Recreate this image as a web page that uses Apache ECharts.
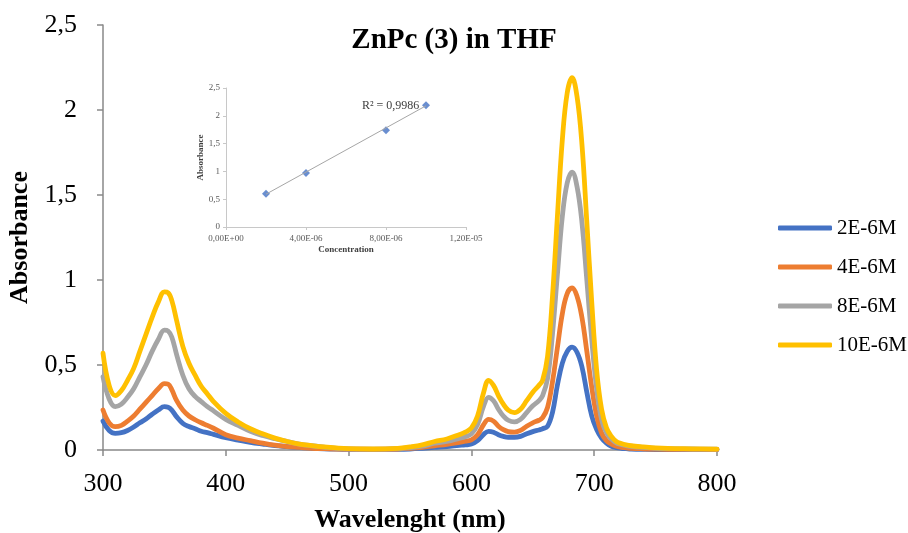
<!DOCTYPE html>
<html>
<head>
<meta charset="utf-8">
<script src="https://cdn.jsdelivr.net/npm/echarts@6/dist/echarts.min.js"></script>
<style>
html,body{margin:0;padding:0;background:#fff;}
#chart{width:908px;height:533px;}
</style>
</head>
<body>
<div id="chart"></div>
<script>
// ---- Data ----
const wavelengths = [300,305,310,315,320,325,330,335,340,345,350,353,356,360,365,370,375,380,385,390,400,410,420,430,440,450,460,470,480,490,500,520,540,550,560,570,580,590,595,600,605,610,614,618,622,626,630,635,640,645,650,655,658,662,666,670,674,678,682,686,690,694,698,702,706,710,714,718,722,726,730,740,750,760,780,800];

const conc2 = [0.17,0.115,0.098,0.102,0.115,0.135,0.16,0.182,0.21,0.235,0.255,0.252,0.235,0.195,0.157,0.138,0.125,0.11,0.102,0.092,0.072,0.058,0.045,0.035,0.026,0.02,0.014,0.01,0.007,0.005,0.004,0.003,0.004,0.006,0.01,0.015,0.02,0.027,0.03,0.035,0.055,0.092,0.11,0.105,0.09,0.08,0.075,0.075,0.08,0.095,0.108,0.118,0.125,0.14,0.22,0.38,0.51,0.58,0.605,0.575,0.49,0.34,0.2,0.12,0.07,0.04,0.022,0.014,0.01,0.008,0.006,0.004,0.003,0.003,0.002,0.002];

const conc4 = [0.235,0.16,0.137,0.145,0.17,0.2,0.24,0.28,0.32,0.36,0.39,0.387,0.355,0.29,0.235,0.2,0.178,0.16,0.145,0.128,0.09,0.07,0.055,0.04,0.028,0.02,0.015,0.01,0.008,0.006,0.005,0.004,0.006,0.01,0.016,0.025,0.033,0.045,0.052,0.06,0.09,0.15,0.18,0.17,0.14,0.12,0.108,0.105,0.115,0.14,0.16,0.175,0.19,0.25,0.4,0.6,0.8,0.92,0.953,0.905,0.78,0.58,0.37,0.2,0.1,0.055,0.035,0.022,0.016,0.013,0.01,0.007,0.005,0.004,0.004,0.003];

const conc8 = [0.43,0.3,0.255,0.27,0.31,0.36,0.43,0.5,0.58,0.65,0.705,0.7,0.665,0.56,0.44,0.36,0.315,0.285,0.255,0.23,0.18,0.145,0.11,0.085,0.066,0.05,0.035,0.025,0.017,0.01,0.007,0.005,0.008,0.014,0.022,0.04,0.05,0.068,0.078,0.095,0.15,0.26,0.31,0.29,0.24,0.2,0.175,0.165,0.18,0.22,0.26,0.29,0.32,0.42,0.68,1.03,1.37,1.57,1.635,1.55,1.34,1.0,0.65,0.36,0.18,0.1,0.065,0.042,0.032,0.026,0.022,0.015,0.01,0.008,0.006,0.005];

const conc10 = [0.57,0.38,0.32,0.35,0.41,0.48,0.58,0.68,0.78,0.87,0.93,0.925,0.88,0.76,0.61,0.51,0.44,0.375,0.33,0.285,0.215,0.165,0.125,0.095,0.07,0.05,0.035,0.026,0.018,0.012,0.008,0.006,0.01,0.018,0.03,0.05,0.065,0.09,0.105,0.13,0.2,0.34,0.41,0.38,0.32,0.27,0.235,0.22,0.24,0.29,0.34,0.38,0.41,0.55,0.9,1.37,1.82,2.1,2.19,2.08,1.8,1.34,0.87,0.47,0.24,0.13,0.08,0.05,0.038,0.03,0.025,0.018,0.012,0.009,0.007,0.005];

const seriesNames = ['2E-6M','4E-6M','8E-6M','10E-6M'];
const seriesValues = [conc2, conc4, conc8, conc10];
const seriesColors = ['#4472C4','#ED7D31','#A5A5A5','#FFC000'];

const xTicks = [300,400,500,600,700,800];
const yTicks = [0,0.5,1,1.5,2,2.5];

// Inset calibration data
const insetConc = [2e-6, 4e-6, 8e-6, 1e-5];
const insetAbs = [0.60, 0.97, 1.74, 2.19];
const trendConc = [2e-6, 1e-5];
const trendAbs = [0.59, 2.18];
const rSquaredText = 'R² = 0,9986';

// ---- helpers ----
function comma(v){ return String(+v.toFixed(2)).replace('.', ','); }
function sci(v){
  if (Math.abs(v) < 1e-12) return '0,00E+00';
  const e = Math.floor(Math.log10(Math.abs(v)) + 1e-9);
  const m = v / Math.pow(10, e);
  const es = (e < 0 ? '-' : '+') + String(Math.abs(e)).padStart(2,'0');
  return m.toFixed(2).replace('.', ',') + 'E' + es;
}

const serif = 'Liberation Serif';
const axisGray = '#898989';
const insetGray = '#c8c8c8';

const series = seriesValues.map((vals, i) => ({
  name: seriesNames[i],
  type: 'line',
  xAxisIndex: 0, yAxisIndex: 0,
  data: wavelengths.map((w, j) => [w, vals[j]]),
  smooth: 0.4,
  showSymbol: false,
  symbol: 'none',
  lineStyle: { color: seriesColors[i], width: 4.8, cap: 'round', join: 'round' },
  itemStyle: { color: seriesColors[i] },
  z: 2 + i,
  animation: false
}));

series.push({
  type: 'line',
  xAxisIndex: 1, yAxisIndex: 1,
  data: trendConc.map((c, i) => [c, trendAbs[i]]),
  showSymbol: false, symbol: 'none',
  lineStyle: { color: '#a6a6a6', width: 1 },
  silent: true, animation: false
});
series.push({
  type: 'scatter',
  xAxisIndex: 1, yAxisIndex: 1,
  data: insetConc.map((c, i) => [c, insetAbs[i]]),
  symbol: 'diamond', symbolSize: 8,
  itemStyle: { color: '#4472C4' },
  animation: false
});

const chart = echarts.init(document.getElementById('chart'), null, { renderer: 'canvas' });
chart.setOption({
  animation: false,
  backgroundColor: '#ffffff',
  title: {
    text: 'ZnPc (3) in THF',
    left: 449, top: 21, textAlign: 'center',
    textStyle: { fontFamily: serif, fontWeight: 'bold', fontSize: 29, color: '#000' }
  },
  legend: {
    orient: 'vertical',
    left: 773, top: 212,
    icon: 'roundRect',
    itemWidth: 54, itemHeight: 5, itemGap: 17,
    data: seriesNames,
    textStyle: { fontFamily: serif, fontSize: 21, color: '#000', lineHeight: 22 }
  },
  grid: [
    { left: 103, top: 25, width: 614, height: 425, containLabel: false, outerBoundsMode: 'none' },
    { left: 226, top: 88, width: 240, height: 139, containLabel: false, outerBoundsMode: 'none' }
  ],
  xAxis: [
    {
      gridIndex: 0, type: 'value', min: 300, max: 800, interval: 100,
      name: 'Wavelenght (nm)', nameLocation: 'middle', nameGap: 57,
      nameTextStyle: { fontFamily: serif, fontWeight: 'bold', fontSize: 26, color: '#000' },
      axisLine: { show: true, lineStyle: { color: axisGray, width: 1.5 } },
      axisTick: { show: true, length: 6, lineStyle: { color: axisGray, width: 1.5 } },
      axisLabel: { fontFamily: serif, fontSize: 26, color: '#000', margin: 21 },
      splitLine: { show: false }
    },
    {
      gridIndex: 1, type: 'value', min: 0, max: 1.2e-5, interval: 4e-6,
      name: 'Concentration', nameLocation: 'middle', nameGap: 18,
      nameTextStyle: { fontFamily: serif, fontWeight: 'bold', fontSize: 9, color: '#404040' },
      axisLine: { show: true, lineStyle: { color: insetGray, width: 1 } },
      axisTick: { show: true, length: 3, lineStyle: { color: insetGray } },
      axisLabel: { fontFamily: serif, fontSize: 9, color: '#595959', margin: 7, formatter: sci },
      splitLine: { show: false }
    }
  ],
  yAxis: [
    {
      gridIndex: 0, type: 'value', min: 0, max: 2.5, interval: 0.5,
      name: 'Absorbance', nameLocation: 'middle', nameGap: 69,
      nameTextStyle: { fontFamily: serif, fontWeight: 'bold', fontSize: 26, color: '#000' },
      axisLine: { show: true, lineStyle: { color: axisGray, width: 1.5 } },
      axisTick: { show: true, length: 6, lineStyle: { color: axisGray, width: 1.5 } },
      axisLabel: { fontFamily: serif, fontSize: 26, color: '#000', margin: 26, formatter: comma },
      splitLine: { show: false }
    },
    {
      gridIndex: 1, type: 'value', min: 0, max: 2.5, interval: 0.5,
      name: 'Absorbance', nameLocation: 'middle', nameGap: 21,
      nameTextStyle: { fontFamily: serif, fontWeight: 'bold', fontSize: 9, color: '#404040' },
      axisLine: { show: true, lineStyle: { color: insetGray, width: 1 } },
      axisTick: { show: true, length: 3, lineStyle: { color: insetGray } },
      axisLabel: { fontFamily: serif, fontSize: 9, color: '#595959', margin: 6, formatter: comma },
      splitLine: { show: false }
    }
  ],
  graphic: [
    {
      type: 'text', left: 362, top: 100,
      style: { text: rSquaredText, fontFamily: serif, fontSize: 12, fill: '#404040' }
    }
  ],
  series: series
});
</script>
</body>
</html>
